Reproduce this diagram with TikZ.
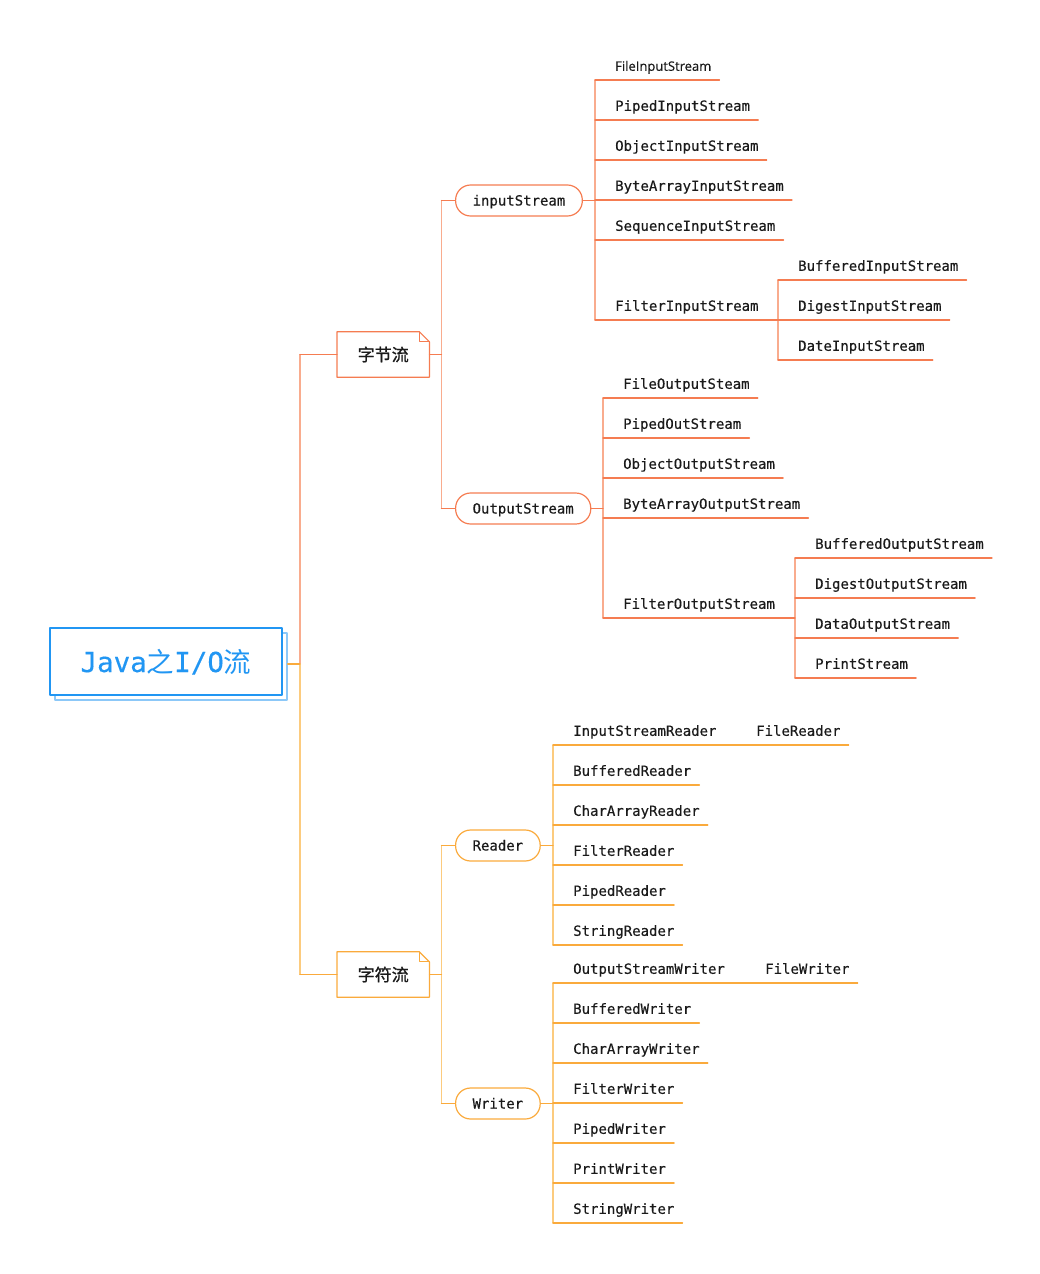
\documentclass[tikz,border=0pt]{standalone}
\usepackage{fontspec}
\setmonofont[FakeBold=0.4]{DejaVu Sans Mono}
\newfontfamily\cjk{Noto Sans CJK SC}
\newfontfamily\cjkb[FakeBold=1.2]{Noto Sans CJK SC}
\newfontfamily\sans[FakeBold=0.4]{Open Sans}
\usetikzlibrary{shadows}
\definecolor{orgline}{HTML}{F57C51}
\definecolor{orglite}{HTML}{F9AC8E}
\definecolor{yelline}{HTML}{FAAA3C}
\definecolor{yellite}{HTML}{FCCB7E}
\definecolor{rootblue}{HTML}{2196F3}
\definecolor{rootlite}{HTML}{8CC8F8}
\definecolor{ink}{HTML}{1A1A1A}
% outline of a note box with a folded top right corner
\newcommand\foldnote[2]{%
  \draw[#2] (#1.south west) -- (#1.north west) -- ([xshift=-10pt]#1.north east)
    -- ([yshift=-10pt]#1.north east) -- (#1.south east) -- cycle;
  \draw[#2] ([xshift=-10pt]#1.north east) -- ([xshift=-10pt,yshift=-10pt]#1.north east)
    -- ([yshift=-10pt]#1.north east);}
\tikzset{
  leaf/.style={anchor=south west, inner sep=0pt, text height=14pt, text depth=9pt,
    font=\ttfamily\fontsize{14}{16}\selectfont, text=ink},
  pill/.style={draw=#1, anchor=west, rounded corners=15pt, minimum height=31pt,
    inner xsep=17pt, inner ysep=0pt, text height=12pt, text depth=2pt,
    font=\ttfamily\fontsize{14}{16}\selectfont, text=ink, line width=1.2pt},
  note/.style={anchor=west, minimum width=92pt, minimum height=45pt, inner sep=0pt,
    text height=15pt, text depth=2pt, font=\cjkb\fontsize{17}{20}\selectfont, text=ink},
  wire/.style={draw=#1, line width=1.2pt}}
\begin{document}
\begin{tikzpicture}[x=1pt,y=-1pt, line join=round, line cap=round]
  \useasboundingbox (0,0) rectangle (1040,1274);
  % root
  \node[draw=rootblue, fill=white, line width=1.3pt, minimum width=232pt, minimum height=67pt,
    copy shadow={shadow xshift=5pt, shadow yshift=-5pt, draw=rootlite, fill=white, line width=1.3pt},
    text height=24pt, text depth=3pt, font=\ttfamily\fontsize{27.5}{30}\selectfont, text=rootblue]
    (root) at (166,661.5) {Java{\cjk 之}I/O{\cjk 流}};
  \node[note] (byte) at (337,354.5) {字节流};
  \node[note] (char) at (337,974.5) {字符流};
  \foldnote{byte}{orgline, line width=1.2pt}
  \foldnote{char}{yelline, line width=1.2pt}
  \coordinate (rootB) at (300,664);
  \draw[wire=orglite] (rootB) -- (rootB |- byte.west);
  \draw[wire=yellite] (rootB) -- (rootB |- char.west);
  \draw[wire=yelline] ([xshift=5pt,yshift=-2.5pt]root.east) -- (rootB);
  \draw[wire=orgline] (rootB |- byte.west) -- (byte.west);
  \draw[wire=yelline] (rootB |- char.west) -- (char.west);
  % second level
  \node[pill=orgline] (input) at (455,200.5) {inputStream};
  \node[pill=orgline] (output) at (455,508.5) {OutputStream};
  \node[pill=yelline] (reader) at (455,845.5) {Reader};
  \node[pill=yelline] (writer) at (455,1103.5) {Writer};
  \coordinate (byteB) at (441.5,354.5);
  \coordinate (charB) at (441.5,974.5);
  \draw[wire=orglite] (byteB |- input.west) -- (byteB |- output.west);
  \draw[wire=yellite] (charB |- reader.west) -- (charB |- writer.west);
  \draw[wire=orgline] (byte.east) -- (byteB) (byteB |- input.west) -- (input.west)
    (byteB |- output.west) -- (output.west);
  \draw[wire=yelline] (char.east) -- (charB) (charB |- reader.west) -- (reader.west)
    (charB |- writer.west) -- (writer.west);
  % inputStream
  \coordinate (inB) at (595,200.5);
  \draw[wire=orglite] (595,80) -- (595,320);
  \foreach \n/\y/\t in {in1/80/{\sans\fontsize{13}{16}\selectfont FileInputStream},
      in2/120/PipedInputStream, in3/160/ObjectInputStream, in4/200/ByteArrayInputStream,
      in5/240/SequenceInputStream, in6/320/FilterInputStream}{
    \node[leaf] (\n) at (615,\y) {\t};
    \draw[wire=orgline] (inB |- \n.south) -- ([xshift=8pt]\n.south east);}
  \draw[wire=orgline] (input.east) -- (inB);
  \coordinate (fiB) at (778,320);
  \draw[wire=orglite] (778,280) -- (778,360);
  \draw[wire=orgline] (in6.south east) -- (fiB);
  \foreach \n/\y/\t in {fi1/280/BufferedInputStream, fi2/320/DigestInputStream,
      fi3/360/DateInputStream}{
    \node[leaf] (\n) at (798,\y) {\t};
    \draw[wire=orgline] (fiB |- \n.south) -- ([xshift=8pt]\n.south east);}
  % OutputStream
  \coordinate (outB) at (603,508.5);
  \draw[wire=orglite] (603,398) -- (603,618);
  \foreach \n/\y/\t in {ou1/398/FileOutputSteam, ou2/438/PipedOutStream,
      ou3/478/ObjectOutputStream, ou4/518/ByteArrayOutputStream, ou5/618/FilterOutputStream}{
    \node[leaf] (\n) at (623,\y) {\t};
    \draw[wire=orgline] (outB |- \n.south) -- ([xshift=8pt]\n.south east);}
  \draw[wire=orgline] (output.east) -- (outB);
  \coordinate (foB) at (795,618);
  \draw[wire=orglite] (795,558) -- (795,678);
  \draw[wire=orgline] (ou5.south east) -- (foB);
  \foreach \n/\y/\t in {fo1/558/BufferedOutputStream, fo2/598/DigestOutputStream,
      fo3/638/DataOutputStream, fo4/678/PrintStream}{
    \node[leaf] (\n) at (815,\y) {\t};
    \draw[wire=orgline] (foB |- \n.south) -- ([xshift=8pt]\n.south east);}
  % Reader
  \coordinate (rdB) at (553,845.5);
  \draw[wire=yellite] (553,745) -- (553,945);
  \foreach \n/\y/\t in {rd1/745/InputStreamReader, rd2/785/BufferedReader,
      rd3/825/CharArrayReader, rd4/865/FilterReader, rd5/905/PipedReader, rd6/945/StringReader}{
    \node[leaf] (\n) at (573,\y) {\t};
    \draw[wire=yelline] (rdB |- \n.south) -- ([xshift=8pt]\n.south east);}
  \draw[wire=yelline] (reader.east) -- (rdB);
  \node[leaf] (frd) at (756,745) {FileReader};
  \draw[wire=yelline] ([xshift=8pt]rd1.south east) -- ([xshift=8pt]frd.south east);
  % Writer
  \coordinate (wrB) at (553,1103.5);
  \draw[wire=yellite] (553,983) -- (553,1223);
  \foreach \n/\y/\t in {wr1/983/OutputStreamWriter, wr2/1023/BufferedWriter,
      wr3/1063/CharArrayWriter, wr4/1103/FilterWriter, wr5/1143/PipedWriter,
      wr6/1183/PrintWriter, wr7/1223/StringWriter}{
    \node[leaf] (\n) at (573,\y) {\t};
    \draw[wire=yelline] (wrB |- \n.south) -- ([xshift=8pt]\n.south east);}
  \draw[wire=yelline] (writer.east) -- (wrB);
  \node[leaf] (fwr) at (765,983) {FileWriter};
  \draw[wire=yelline] ([xshift=8pt]wr1.south east) -- ([xshift=8pt]fwr.south east);
\end{tikzpicture}
\end{document}
